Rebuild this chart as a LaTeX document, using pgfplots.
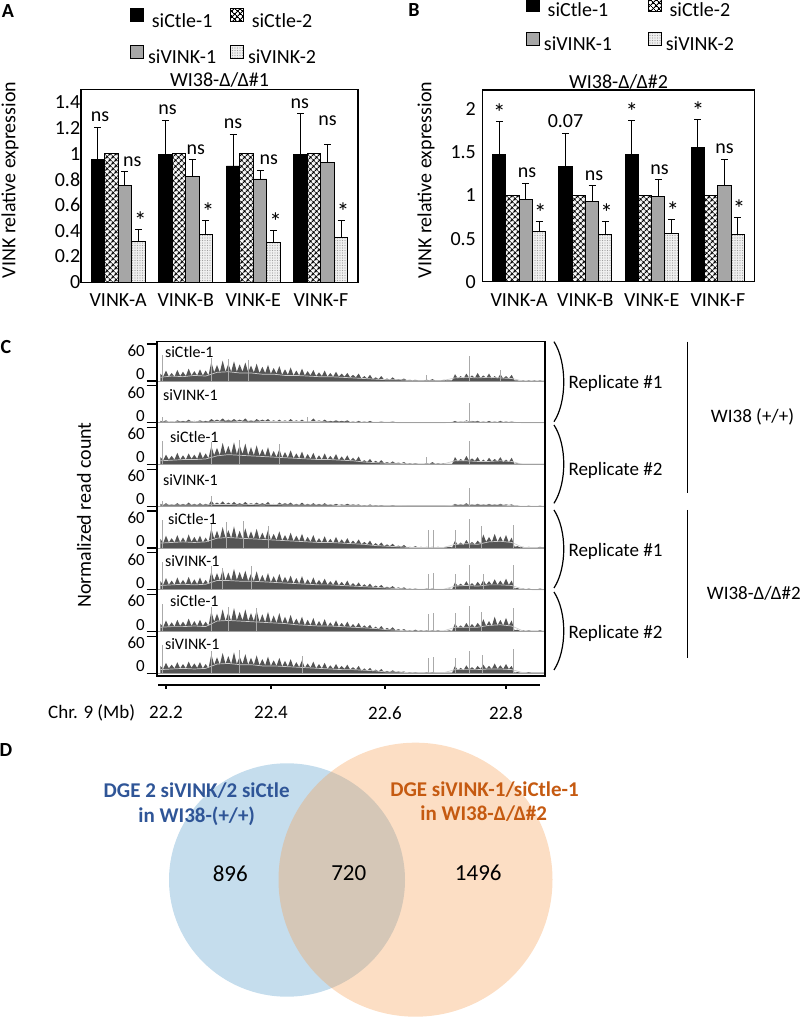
\documentclass[border=0pt]{standalone}
\usepackage{pgfplots}
\pgfplotsset{compat=1.18}
\usepackage{pgfplotstable}
\usetikzlibrary{patterns.meta}
\usepackage{fontspec}
\setmainfont{Carlito}
\newcommand{\fA}{\fontsize{20}{24}\selectfont}
\newcommand{\fAst}{\fontsize{25}{28}\selectfont}
\newcommand{\fC}{\fontsize{19}{23}\selectfont}
\newcommand{\fT}{\fontsize{16}{19}\selectfont}
\newcommand{\fS}{\fontsize{17}{20}\selectfont}
\newcommand{\fV}{\fontsize{21}{25}\selectfont}
\newcommand{\fN}{\fontsize{23}{27}\selectfont}
\definecolor{barGray}{RGB}{166,166,166}
\definecolor{covfill}{RGB}{84,84,84}
\definecolor{spikecol}{RGB}{170,170,170}
\definecolor{lightln}{RGB}{205,205,205}
\definecolor{basecol}{RGB}{160,160,160}
\definecolor{vblue}{RGB}{197,221,237}
\definecolor{vorange}{RGB}{246,155,76}
\definecolor{tblue}{RGB}{47,85,151}
\definecolor{torange}{RGB}{197,90,17}

\pgfplotstableread{
x t1 t2 t3 t4 t5 t6 t7 t8
22.19 12 3 12 4 15 14 13 12
22.195 7 2 7 2 8 8 7 7
22.20 17 4 16 5 20 19 18 17
22.205 7 1 8 2 9 8 8 8
22.21 13 2 14 3 16 15 15 14
22.215 7 1 8 2 9 8 8 8
22.22 18 4 19 5 21 20 19 18
22.225 8 2 8 2 9 9 9 8
22.23 15 3 15 4 17 16 16 15
22.235 8 2 8 2 9 9 9 8
22.24 20 5 18 6 22 21 21 19
22.245 9 2 9 2 10 9 9 9
22.25 16 3 16 4 18 17 17 16
22.255 9 2 9 2 10 9 9 9
22.26 19 4 21 5 20 20 19 18
22.265 9 2 10 2 9 9 9 8
22.27 17 3 18 4 17 16 16 15
22.275 9 2 10 2 9 9 9 8
22.28 31 6 30 9 32 30 33 31
22.285 14 3 15 3 15 15 16 14
22.29 26 5 27 6 28 27 29 26
22.295 14 3 15 3 15 15 16 14
22.30 33 7 35 8 34 33 36 33
22.305 15 3 17 3 16 15 17 15
22.31 28 5 30 6 29 28 31 28
22.315 15 3 17 3 16 15 17 15
22.32 32 6 36 7 35 34 38 34
22.325 15 3 17 3 15 16 18 15
22.33 27 5 31 5 28 29 32 27
22.335 15 3 17 3 15 16 18 15
22.34 30 7 34 7 32 31 36 31
22.345 14 2 15 3 15 14 17 14
22.35 25 4 28 5 27 26 30 25
22.355 14 2 15 3 15 14 17 14
22.36 28 6 31 6 31 30 34 29
22.365 13 3 14 3 14 13 15 13
22.37 23 5 25 5 25 24 28 23
22.375 13 3 14 3 14 13 15 13
22.38 26 6 28 7 29 27 32 27
22.385 12 2 12 2 13 12 14 12
22.39 21 4 22 4 23 22 26 21
22.395 12 2 12 2 13 12 14 12
22.40 24 5 25 6 27 26 30 25
22.405 10 2 11 3 12 12 13 11
22.41 19 4 20 5 21 21 24 20
22.415 10 2 11 3 12 12 13 11
22.42 22 6 23 6 25 23 27 23
22.425 9 2 10 2 11 10 12 10
22.43 17 4 18 4 20 19 21 18
22.435 9 2 10 2 11 10 12 10
22.44 20 5 21 6 23 22 24 21
22.445 9 2 9 2 10 9 10 9
22.45 16 3 17 4 18 17 19 16
22.455 9 2 9 2 10 9 10 9
22.46 18 7 19 5 21 20 22 19
22.465 8 2 8 2 9 9 9 8
22.47 14 4 15 4 16 16 17 15
22.475 8 2 8 2 9 9 9 8
22.48 17 5 18 5 19 18 20 17
22.485 7 2 8 2 8 8 8 7
22.49 13 3 14 3 15 14 15 13
22.495 7 2 8 2 8 8 8 7
22.50 15 4 17 4 18 16 18 15
22.505 7 2 7 2 8 7 8 7
22.51 12 3 13 3 14 13 14 12
22.515 7 2 7 2 8 7 8 7
22.52 13 4 15 4 16 15 16 14
22.525 6 1 6 2 7 6 7 6
22.53 10 2 11 3 12 11 12 10
22.535 6 1 6 2 7 6 7 6
22.54 12 3 13 3 14 12 14 12
22.545 4 1 4 1 6 5 6 4
22.55 8 2 7 2 10 9 10 8
22.555 4 1 4 1 6 5 6 4
22.56 10 3 9 3 12 10 11 9
22.565 3 1 3 1 4 4 4 3
22.57 6 1 6 2 8 7 8 6
22.575 3 1 3 1 4 4 4 3
22.58 8 2 7 2 9 8 9 7
22.585 2 1 2 1 3 3 3 2
22.59 4 1 4 1 6 5 6 4
22.595 2 1 2 1 3 3 3 2
22.60 6 2 5 2 7 6 7 5
22.605 2 1 2 1 2 2 2 2
22.61 3 1 3 1 4 4 4 3
22.615 2 1 2 1 2 2 2 2
22.62 4 1 4 1 5 4 4 3
22.625 1 1 1 1 1 1 1 1
22.63 2 1 2 1 2 2 2 2
22.635 1 1 1 1 1 1 1 1
22.64 2 1 2 1 3 2 3 2
22.645 1 1 1 1 1 1 1 1
22.65 1 1 1 1 2 1 2 1
22.655 1 1 1 1 1 1 1 1
22.66 2 1 2 1 2 2 2 2
22.665 1 1 1 1 1 1 1 1
22.67 3 1 4 1 2 2 2 2
22.675 1 1 1 1 1 1 1 1
22.68 1 1 2 1 2 1 2 1
22.685 1 1 1 1 1 1 1 1
22.69 2 1 2 1 1 1 1 1
22.695 1 1 1 1 1 1 1 1
22.70 1 1 1 1 2 2 2 1
22.705 1 1 1 1 1 1 1 1
22.71 11 3 12 4 12 12 13 12
22.715 4 1 5 2 5 6 6 5
22.72 8 2 9 3 9 10 10 9
22.725 4 1 5 2 5 6 6 5
22.73 12 4 14 5 13 14 14 13
22.735 5 2 6 2 6 6 7 6
22.74 9 3 10 3 10 11 12 10
22.745 5 2 6 2 6 6 7 6
22.75 13 3 12 4 12 13 14 12
22.755 5 1 4 2 7 7 8 7
22.76 9 2 8 3 22 16 20 14
22.765 5 1 4 2 10 8 9 7
22.77 12 3 11 4 18 14 17 12
22.775 4 1 5 2 10 8 9 7
22.78 8 2 9 3 23 17 24 16
22.785 4 1 5 2 10 8 10 7
22.79 11 3 12 4 19 15 19 13
22.795 4 1 4 2 10 8 10 7
22.80 8 2 8 3 21 18 22 15
22.805 4 1 4 2 9 8 10 7
22.81 10 2 11 3 17 15 18 12
22.815 1 1 1 1 2 2 2 1
22.82 1 1 2 1 3 3 3 2
22.825 0 0 1 0 1 1 1 1
22.83 1 0 1 0 2 2 2 1
22.835 0 0 1 0 1 1 1 1
22.84 1 1 1 1 2 2 2 2
22.845 0 0 1 0 1 1 1 1
22.85 1 0 1 0 1 1 1 1
22.855 0 0 1 0 1 1 1 1
22.86 1 1 1 1 2 2 2 1
22.865 0 0 1 0 1 1 1 1
22.87 1 0 1 0 1 1 1 1
}\covT

\pgfplotstableread{
x m1 m2 m3 m4 m5 m6 m7 m8
22.19 6 1 6 2 8 7 7 6
22.21 8 2 7 2 9 8 8 7
22.23 7 1 8 2 10 9 8 8
22.25 9 2 8 2 9 8 9 7
22.27 8 1 9 2 10 9 8 8
22.29 14 2 14 3 16 15 17 15
22.31 15 3 16 3 17 15 18 16
22.33 13 2 15 2 16 14 17 14
22.35 13 3 14 3 15 14 16 14
22.37 11 2 13 2 14 13 15 12
22.39 11 2 12 3 13 12 14 12
22.41 9 2 11 2 12 11 13 11
22.43 9 2 10 2 11 10 11 10
22.45 8 2 9 2 10 9 10 9
22.47 7 2 8 2 9 8 9 8
22.49 7 1 8 2 9 8 9 7
22.51 6 1 7 1 8 7 8 6
22.53 5 1 6 1 7 6 7 6
22.55 4 1 4 1 6 5 6 5
22.57 3 1 3 1 4 4 5 4
22.59 2 1 2 1 3 3 3 2
22.61 2 0 2 1 2 2 2 2
22.63 1 0 1 0 1 1 1 1
22.65 1 0 1 0 1 1 1 1
22.67 1 0 1 0 1 1 1 1
22.69 1 0 1 0 1 1 1 1
22.71 5 1 6 2 6 6 7 6
22.73 6 2 6 2 7 7 7 6
22.75 5 1 5 2 6 6 7 6
22.77 6 1 5 2 10 8 10 7
22.79 5 1 6 2 11 8 11 7
22.81 4 1 5 1 9 7 9 6
22.83 0 0 0 0 1 1 1 1
22.85 0 0 0 0 1 0 1 0
22.87 0 0 0 0 0 0 0 0
}\covM

\pgfplotsset{
  boxlegend/.style={legend image code/.code={\draw[##1] (0pt,-1pt) rectangle (13pt,12pt);}},
  errbar/.style={forget plot, draw=none, mark=none, error bars/.cd, y dir=plus, y explicit,
     error bar style={draw=black,line width=1pt},
     error mark options={draw=black,line width=1pt,mark size=3.5pt,rotate=90}},
  sA/.style={ybar, bar width=0.2, draw=black, line width=0.9pt, fill=black, boxlegend},
  sB/.style={ybar, bar width=0.2, draw=black, line width=0.9pt, fill=white,
     postaction={pattern={Hatch[angle=45,distance=4pt,line width=1.1pt]},pattern color=black}, boxlegend},
  sC/.style={ybar, bar width=0.2, draw=black, line width=0.9pt, fill=barGray, boxlegend},
  sD/.style={ybar, bar width=0.2, draw=black, line width=0.9pt, fill=gray!12,
     postaction={pattern={Dots[distance=2.5pt,radius=0.55pt]},pattern color=gray!75}, boxlegend},
  barax/.style={scale only axis,
     xmin=-0.55, xmax=3.55, ymin=0,
     xtick={0,1,2,3}, xticklabels={VINK-A,VINK-B,VINK-E,VINK-F},
     major tick length=0pt, axis line style={line width=1.3pt},
     tick label style={font=\fA}, xticklabel style={yshift=-8pt},
     legend columns=2, clip=false},
  trackstyle/.style={scale only axis, width=388.3pt, height=41.76pt,
     xmin=22.1836, xmax=22.8688, ymin=0, ymax=67.7,
     axis lines*=left, axis line style={draw=none}, xtick=\empty,
     ytick={0,60}, yticklabels={}, tick align=outside, major tick length=10pt,
     ytick style={black,line width=1.1pt},
     extra y ticks={11.35,49.1}, extra y tick labels={0,60},
     extra y tick style={major tick length=0pt, ytick style={draw=none},
        yticklabel style={font=\fS, inner sep=0pt, xshift=-11.7pt}},
     clip=false}
}

\newcommand\track[7]{%
\begin{axis}[trackstyle, at={(156.7pt,#1pt)}, anchor=south west]
\addplot[draw=none, fill=covfill] table[x=x,y=#2]{\covT} \closedcycle;
\addplot[color=lightln, line width=0.7pt] table[x=x,y=#3]{\covM};
\addplot[ycomb, color=spikecol, line width=0.9pt] coordinates {#7};
\addplot[color=basecol, line width=0.9pt] coordinates {(22.1836,0) (22.8688,0)};
\node[anchor=west, inner sep=0pt, font=\fT] at (axis cs:#5,#6) {#4};
\end{axis}}

\begin{document}
\begin{tikzpicture}[x=1pt,y=1pt]
\path[use as bounding box] (0,0) rectangle (800,1018);

% ---------------- Panel A ----------------
\begin{axis}[barax, at={(81pt,735.7pt)}, anchor=south west, width=277pt, height=193pt, ymax=1.5,
  ytick={0,0.2,0.4,0.6,0.8,1,1.2,1.4}, yticklabels={0,0.2,0.4,0.6,0.8,1,1.2,1.4},
  yticklabel style={xshift=2.7pt},
  legend style={at={(0.177,1.42)}, anchor=north west, draw=none, fill=none, inner sep=0pt,
     font=\fA, row sep=15pt, nodes={inner sep=1.5pt, inner xsep=4pt},
     /tikz/every even column/.append style={column sep=10pt}}]
\addplot[sA, bar shift=-0.3] coordinates {(0,0.956) (1,0.99) (2,0.904) (3,0.99)};
\addplot[sB, bar shift=-0.1] coordinates {(0,1) (1,1) (2,1) (3,1)};
\addplot[sC, bar shift=0.1] coordinates {(0,0.754) (1,0.821) (2,0.803) (3,0.93)};
\addplot[sD, bar shift=0.3] coordinates {(0,0.316) (1,0.373) (2,0.308) (3,0.35)};
\legend{siCtle-1,siCtle-2,siVINK-1,siVINK-2}
\addplot[errbar] coordinates {(-0.3,0.956) +- (0,0.25) (0.7,0.99) +- (0,0.27) (1.7,0.904) +- (0,0.246) (2.7,0.99) +- (0,0.32)};
\addplot[errbar] coordinates {(0.1,0.754) +- (0,0.106) (1.1,0.821) +- (0,0.13) (2.1,0.803) +- (0,0.068) (3.1,0.93) +- (0,0.138)};
\addplot[errbar] coordinates {(0.3,0.316) +- (0,0.091) (1.3,0.373) +- (0,0.111) (2.3,0.308) +- (0,0.093) (3.3,0.35) +- (0,0.129)};
\begin{scope}[every node/.style={font=\fA, inner sep=0pt, anchor=base}]
\node[yshift=5.6pt] at (axis cs:-0.27,1.206) {ns};
\node[yshift=5.6pt] at (axis cs:0.73,1.26) {ns};
\node[yshift=5.6pt] at (axis cs:1.7,1.15) {ns};
\node[yshift=5.6pt] at (axis cs:2.69,1.31) {ns};
\node[yshift=5.6pt] at (axis cs:0.21,0.86) {ns};
\node[yshift=5.6pt] at (axis cs:1.15,0.951) {ns};
\node[yshift=5.6pt] at (axis cs:2.23,0.871) {ns};
\node at (axis cs:3.1,1.221) {ns};
\node[font=\fAst, yshift=0pt] at (axis cs:0.33,0.407) {*};
\node[font=\fAst, yshift=0pt] at (axis cs:1.33,0.484) {*};
\node[font=\fAst, yshift=0pt] at (axis cs:2.33,0.401) {*};
\node[font=\fAst, yshift=0pt] at (axis cs:3.33,0.479) {*};
\end{scope}
\end{axis}
\node[font=\fA] at (219.5,938) {WI38-Δ/Δ\#1};
\node[font=\fA, rotate=90] at (10,838) {VINK relative expression};
\node[font=\fA\bfseries] at (8,1007) {A};

% ---------------- Panel B ----------------
\begin{axis}[barax, at={(482.7pt,736.3pt)}, anchor=south west, width=271.6pt, height=191.7pt, ymax=2.224,
  ytick={0,0.5,1,1.5,2}, yticklabels={0,0.5,1,1.5,2},
  yticklabel style={xshift=-3.3pt},
  legend style={at={(0.159,1.48)}, anchor=north west, draw=none, fill=none, inner sep=0pt,
     font=\fA, row sep=12.5pt, nodes={inner sep=1.5pt, inner xsep=4pt},
     /tikz/every even column/.append style={column sep=32pt}}]
\addplot[sA, bar shift=-0.3] coordinates {(0,1.481) (1,1.334) (2,1.475) (3,1.552)};
\addplot[sB, bar shift=-0.1] coordinates {(0,1) (1,1) (2,1) (3,1)};
\addplot[sC, bar shift=0.1] coordinates {(0,0.959) (1,0.936) (2,0.994) (3,1.114)};
\addplot[sD, bar shift=0.3] coordinates {(0,0.585) (1,0.553) (2,0.561) (3,0.553)};
\legend{siCtle-1,siCtle-2,siVINK-1,siVINK-2}
\addplot[errbar] coordinates {(-0.3,1.481) +- (0,0.375) (0.7,1.334) +- (0,0.386) (1.7,1.475) +- (0,0.395) (2.7,1.552) +- (0,0.324)};
\addplot[errbar] coordinates {(0.1,0.959) +- (0,0.182) (1.1,0.936) +- (0,0.178) (2.1,0.994) +- (0,0.186) (3.1,1.114) +- (0,0.306)};
\addplot[errbar] coordinates {(0.3,0.585) +- (0,0.111) (1.3,0.553) +- (0,0.151) (2.3,0.561) +- (0,0.166) (3.3,0.553) +- (0,0.189)};
\begin{scope}[every node/.style={font=\fA, inner sep=0pt, anchor=base}]
\node[font=\fAst, yshift=0.5pt] at (axis cs:-0.3,1.856) {*};
\node[yshift=6pt] at (axis cs:0.7,1.72) {0.07};
\node[font=\fAst, yshift=0.5pt] at (axis cs:1.7,1.87) {*};
\node[font=\fAst, yshift=0.5pt] at (axis cs:2.7,1.876) {*};
\node[yshift=5.6pt] at (axis cs:0.12,1.141) {ns};
\node[yshift=5.6pt] at (axis cs:1.13,1.114) {ns};
\node[yshift=5.6pt] at (axis cs:2.12,1.18) {ns};
\node[yshift=5.6pt] at (axis cs:3.1,1.42) {ns};
\node[font=\fAst, yshift=0pt] at (axis cs:0.32,0.696) {*};
\node[font=\fAst, yshift=0pt] at (axis cs:1.32,0.704) {*};
\node[font=\fAst, yshift=0pt] at (axis cs:2.32,0.727) {*};
\node[font=\fAst, yshift=0pt] at (axis cs:3.32,0.742) {*};
\end{scope}
\end{axis}
\node[font=\fA] at (618.5,936) {WI38-Δ/Δ\#2};
\node[font=\fA, rotate=90] at (426,838) {VINK relative expression};
\node[font=\fA\bfseries] at (414,1008) {B};

% ---------------- Panel C ----------------
\track{637}{t1}{m1}{siCtle-1}{22.198}{47.5}{(22.193,42) (22.281,37) (22.31,36) (22.345,34) (22.66,10) (22.736,40) (22.79,18)}
\track{595.24}{t2}{m2}{siVINK-1}{22.1947}{44.8}{(22.193,10) (22.45,10) (22.736,32)}
\track{553.48}{t3}{m3}{siCtle-1}{22.207}{44.3}{(22.193,38) (22.281,36) (22.33,40) (22.40,33) (22.66,12) (22.736,38)}
\track{511.72}{t4}{m4}{siVINK-1}{22.1947}{42.2}{(22.193,8) (22.281,17) (22.736,30)}
\track{469.96}{t5}{m5}{siCtle-1}{22.2035}{47}{(22.193,45) (22.281,40) (22.307,42) (22.336,44) (22.38,36) (22.663,29) (22.672,30) (22.711,30) (22.736,47) (22.756,35) (22.813,38)}
\track{428.2}{t6}{m6}{siVINK-1}{22.198}{45.9}{(22.193,45) (22.281,38) (22.30,36) (22.35,38) (22.663,25) (22.672,28) (22.711,25) (22.736,40) (22.76,26) (22.813,40)}
\track{386.44}{t7}{m7}{siCtle-1}{22.207}{49.8}{(22.193,44) (22.281,40) (22.31,40) (22.36,38) (22.663,28) (22.672,30) (22.711,30) (22.736,42) (22.757,32) (22.813,38)}
\track{344.68}{t8}{m8}{siVINK-1}{22.198}{47.5}{(22.193,46) (22.281,36) (22.33,38) (22.44,28) (22.663,25) (22.672,26) (22.711,25) (22.736,36) (22.758,30) (22.813,40)}
\draw[line width=1.6pt] (156.7,342) rectangle (545,676.3);

\begin{axis}[at={(158.3pt,333pt)}, anchor=south west, scale only axis, width=381.7pt, height=10pt,
  xmin=22.1864, xmax=22.86, ymin=0, ymax=1,
  axis x line*=bottom, axis y line=none,
  xtick={22.2,22.3853,22.5865,22.8}, xticklabels={22.2,22.4,22.6,22.8},
  tick align=outside, major tick length=4pt,
  axis line style={line width=1.3pt}, xtick style={black,line width=1.2pt},
  xticklabel style={font=\fC, yshift=-14pt}]
\addplot[draw=none] coordinates {(22.2,0)};
\end{axis}
\node[font=\fC] at (91.7,304.7) {Chr. 9 (Mb)};
\node[font=\fA, rotate=90] at (84,503) {Normalized read count};
\node[font=\fA\bfseries] at (6,671) {C};

\begin{scope}[line width=1.2pt]
\draw (554,676.3) .. controls (567,656) and (567,616) .. (554,596.3);
\draw (554,593) .. controls (567,573) and (567,535) .. (554,514.7);
\draw (554,508) .. controls (567,488) and (567,450) .. (554,430);
\draw (554,426) .. controls (567,406) and (567,368) .. (554,348);
\draw (687.7,676.3) -- (687.7,524.7);
\draw (687.7,508) -- (687.7,359.7);
\end{scope}
\node[font=\fC] at (615.5,634.7) {Replicate \#1};
\node[font=\fC] at (615.5,548) {Replicate \#2};
\node[font=\fC] at (615.5,466.3) {Replicate \#1};
\node[font=\fC] at (615.5,384.7) {Replicate \#2};
\node[font=\fC] at (752.5,601.3) {WI38 (+/+)};
\node[font=\fC, anchor=west, inner sep=0pt] at (706.7,424.7) {WI38-Δ/Δ\#2};

% ---------------- Panel D ----------------
\begin{axis}[at={(0pt,0pt)}, anchor=south west, scale only axis, width=800pt, height=298pt,
  xmin=0, xmax=800, ymin=0, ymax=298, hide axis, clip=false]
\fill[vblue] (axis cs:287,138) ellipse [x radius=118, y radius=116.7];
\fill[vorange, fill opacity=0.33] (axis cs:415.5,138.3) circle [radius=137];
\node[font=\fV\bfseries, text=tblue] at (axis cs:196.7,227) {DGE 2 siVINK/2 siCtle};
\node[font=\fV\bfseries, text=tblue] at (axis cs:196.7,202) {in WI38-(+/+)};
\node[font=\fV\bfseries, text=torange] at (axis cs:484.5,228.7) {DGE siVINK-1/siCtle-1};
\node[font=\fV\bfseries, text=torange] at (axis cs:483.7,204) {in WI38-Δ/Δ\#2};
\node[font=\fN] at (axis cs:230.3,144.7) {896};
\node[font=\fN] at (axis cs:348.8,144.7) {720};
\node[font=\fN] at (axis cs:478.3,145) {1496};
\end{axis}
\node[font=\fA\bfseries] at (6,268) {D};
\end{tikzpicture}
\end{document}
